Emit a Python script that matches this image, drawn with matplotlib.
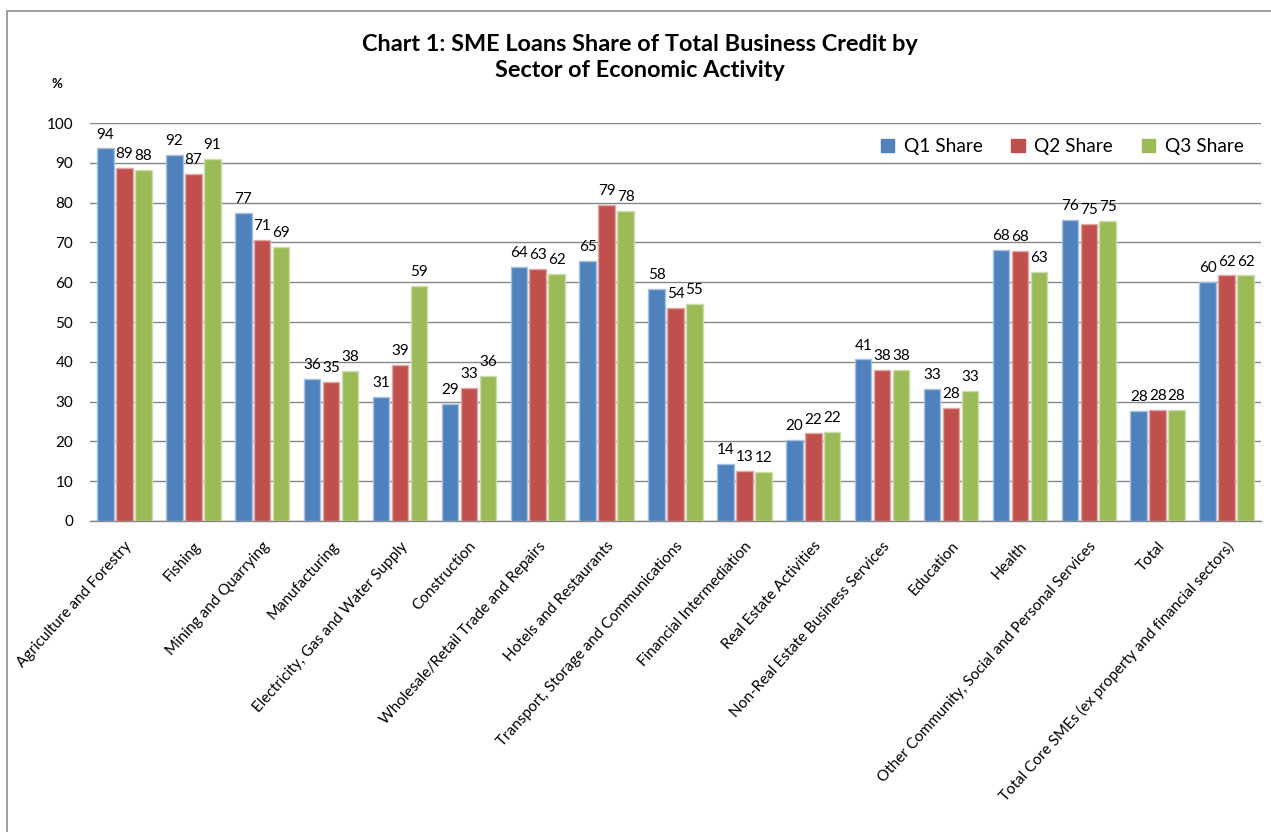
import matplotlib
matplotlib.use("Agg")
import matplotlib.pyplot as plt
import numpy as np
from matplotlib.patches import Patch, Rectangle

plt.rcParams['font.family'] = ['Lato', 'DejaVu Sans']

categories = [
    "Agriculture and Forestry", "Fishing", "Mining and Quarrying", "Manufacturing",
    "Electricity, Gas and Water Supply", "Construction", "Wholesale/Retail Trade and Repairs",
    "Hotels and Restaurants", "Transport, Storage and Communications",
    "Financial Intermediation", "Real Estate Activities", "Non-Real Estate Business Services",
    "Education", "Health", "Other Community, Social and Personal Services", "Total",
    "Total Core SMEs (ex property and financial sectors)",
]
q1 = [93.6, 92.0, 77.3, 35.7, 31.2, 29.4, 63.8, 65.3, 58.3, 14.3, 20.4, 40.6, 33.2, 68.0, 75.6, 27.6, 60.1]
q2 = [88.6, 87.1, 70.6, 34.9, 39.2, 33.4, 63.3, 79.4, 53.6, 12.6, 22.0, 38.0, 28.3, 67.8, 74.7, 27.8, 61.7]
q3 = [88.1, 91.0, 68.8, 37.7, 59.0, 36.4, 62.1, 77.9, 54.6, 12.4, 22.3, 38.0, 32.7, 62.6, 75.4, 27.8, 61.7]
series_names = ["Q1 Share", "Q2 Share", "Q3 Share"]
colors = ["#4F81BD", "#C0504D", "#9BBB59"]
edge_colors = ["#A7C0DE", "#DFA9A7", "#CDDDAC"]
yticks = [0, 10, 20, 30, 40, 50, 60, 70, 80, 90, 100]

W, H = 1271, 832
fig = plt.figure(figsize=(W / 100, H / 100), dpi=100)
ax = fig.add_axes([90 / W, 1 - 521 / H, (1261 - 90) / W, (521 - 123) / H])

x = np.arange(len(categories))
slot = 0.275
bw = 0.24
for i, (vals, c, ec) in enumerate(zip([q1, q2, q3], colors, edge_colors)):
    pos = x + (i - 1) * slot
    ax.bar(pos, vals, width=bw, color=c, edgecolor=ec, linewidth=1, zorder=3)
    for xp, v in zip(pos, vals):
        ax.annotate(f"{v:.0f}", (xp, v), xytext=(0, 10), textcoords="offset points",
                    ha="center", va="center", fontsize=11, color="#000000")

ax.set_xlim(-0.5, len(categories) - 0.5)
ax.set_ylim(0, 100)
ax.set_yticks(yticks)
ax.set_yticklabels([str(t) for t in yticks], fontsize=11)
ax.yaxis.grid(True, color="#868686", linewidth=1)
ax.set_axisbelow(True)
ax.tick_params(axis="y", length=0, pad=12)
ax.tick_params(axis="x", length=0, pad=13)
for s in ["left", "right", "top"]:
    ax.spines[s].set_visible(False)
ax.spines["bottom"].set_color("#868686")
ax.spines["bottom"].set_linewidth(1)

ax.set_xticks(x)
ax.set_xticklabels(categories, rotation=48, ha="right", rotation_mode="anchor", fontsize=11)

handles = [Patch(facecolor=c, edgecolor=c) for c in colors]
ax.legend(handles, series_names, ncol=3, loc="upper right", bbox_to_anchor=(1.0, 1.005),
          frameon=False, fontsize=13.8, handlelength=0.7, handleheight=0.7,
          handletextpad=0.5, columnspacing=1.5)

fig.text(0.5035, 1 - 57.5 / H, "Chart 1: SME Loans Share of Total Business Credit by\nSector of Economic Activity",
         ha="center", va="center", fontsize=16.9, fontweight="bold", linespacing=1.3)
fig.text(57 / W, 1 - 84 / H, "%", ha="center", va="center", fontsize=9.5, fontweight="bold")

fig.patches.append(Rectangle((7 / W, -0.1), 1.2, 1 - 11 / H + 0.1, transform=fig.transFigure,
                             fill=False, edgecolor="#8C8C8C", linewidth=1.2, zorder=0))

fig.savefig("out.png", dpi=100)
